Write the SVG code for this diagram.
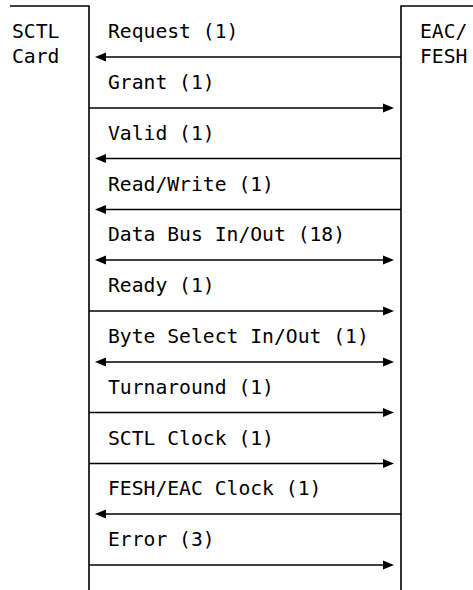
<svg xmlns="http://www.w3.org/2000/svg" width="473" height="590" viewBox="0 0 473 590">
<style>
text{font-family:"DejaVu Sans Mono","Liberation Mono",monospace;font-size:19.7px;fill:#000}
.ln{stroke:#000;stroke-width:1.6;fill:none}
.ah{fill:#000}
</style>
<defs>
<path id="ar" class="ah" d="M0,0 L-11,-4.5 L-11,4.5 Z"/>
<path id="al" class="ah" d="M0,0 L11,-4.5 L11,4.5 Z"/>
</defs>
<rect width="473" height="590" fill="#fff"/>
<g id="sctl">
<path class="ln" d="M10,6 H89 V590"/>
<text x="12" y="38">SCTL</text>
<text x="12" y="63">Card</text>
</g>
<g id="eac">
<path class="ln" d="M473,6 H401 V590"/>
<text x="420" y="38">EAC/</text>
<text x="420" y="63">FESH</text>
</g>
<g id="connectors">
<g id="c-request"><text x="108" y="38">Request (1)</text><line class="ln" x1="100" y1="57" x2="401" y2="57"/><use href="#al" x="95" y="57"/></g>
<g id="c-grant"><text x="108" y="89">Grant (1)</text><line class="ln" x1="89" y1="108" x2="389" y2="108"/><use href="#ar" x="394" y="108"/></g>
<g id="c-valid"><text x="108" y="139.5">Valid (1)</text><line class="ln" x1="100" y1="158.5" x2="401" y2="158.5"/><use href="#al" x="95" y="158.5"/></g>
<g id="c-rw"><text x="108" y="190.5">Read/Write (1)</text><line class="ln" x1="100" y1="209.5" x2="401" y2="209.5"/><use href="#al" x="95" y="209.5"/></g>
<g id="c-data"><text x="108" y="241">Data Bus In/Out (18)</text><line class="ln" x1="100" y1="260" x2="389" y2="260"/><use href="#al" x="95" y="260"/><use href="#ar" x="394" y="260"/></g>
<g id="c-ready"><text x="108" y="292">Ready (1)</text><line class="ln" x1="89" y1="311" x2="389" y2="311"/><use href="#ar" x="394" y="311"/></g>
<g id="c-byte"><text x="108" y="343">Byte Select In/Out (1)</text><line class="ln" x1="100" y1="362" x2="389" y2="362"/><use href="#al" x="95" y="362"/><use href="#ar" x="394" y="362"/></g>
<g id="c-turn"><text x="108" y="393.5">Turnaround (1)</text><line class="ln" x1="89" y1="412.5" x2="389" y2="412.5"/><use href="#ar" x="394" y="412.5"/></g>
<g id="c-sclk"><text x="108" y="444.5">SCTL Clock (1)</text><line class="ln" x1="89" y1="463.5" x2="389" y2="463.5"/><use href="#ar" x="394" y="463.5"/></g>
<g id="c-fclk"><text x="108" y="495">FESH/EAC Clock (1)</text><line class="ln" x1="100" y1="514" x2="401" y2="514"/><use href="#al" x="95" y="514"/></g>
<g id="c-error"><text x="108" y="546">Error (3)</text><line class="ln" x1="89" y1="565" x2="389" y2="565"/><use href="#ar" x="394" y="565"/></g>
</g>
</svg>
